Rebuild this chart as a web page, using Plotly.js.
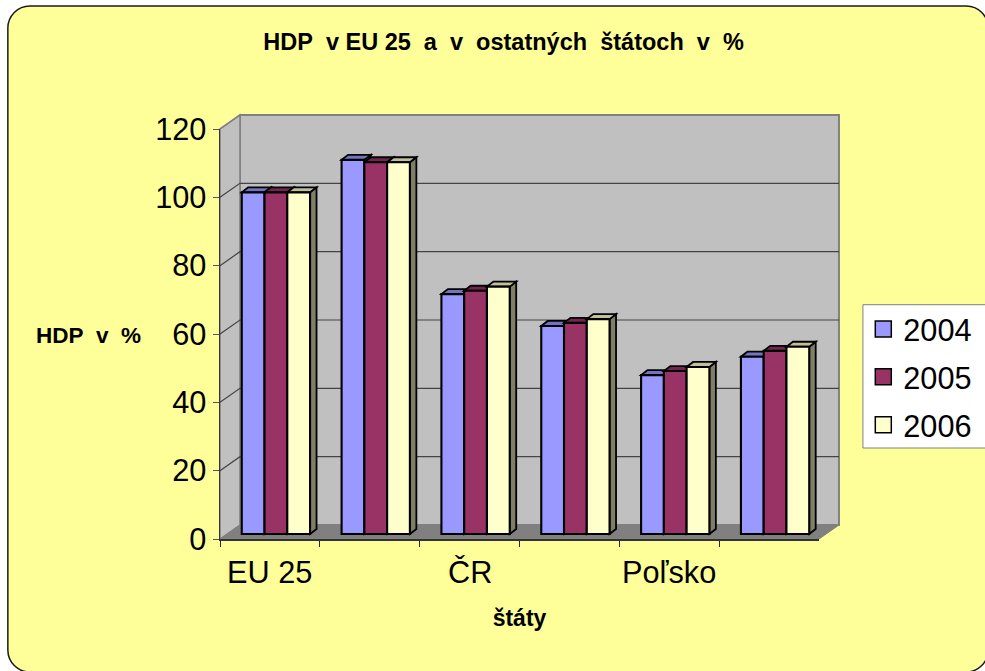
<!DOCTYPE html>
<html><head><meta charset="utf-8">
<script src="https://cdn.plot.ly/plotly-3.0.1.min.js"></script>
<style>html,body{margin:0;padding:0;background:#fff;overflow:hidden}</style>
</head><body><div id="chart" style="width:985px;height:671px"></div>
<script>
const categories = ['EU 25','','ČR','','Poľsko',''];
const years = ['2004','2005','2006'];
const values2004 = [100, 109.5, 70.2, 60.9, 46.5, 51.9];
const values2005 = [100, 108.8, 71.2, 61.8, 47.7, 53.6];
const values2006 = [100, 108.8, 72.4, 62.9, 48.9, 54.8];
const yTicks = [0,20,40,60,80,100,120];
const frontColors = ['#9999FF','#993366','#FFFFCC'];
const topColors = ['#7373C0','#732650','#C0C09A'];
const sideColors = ['#73738F','#732650','#7F7F66'];

const W=985,H=671,L=219.5,R=819.5,T=129,B=539;
const uX=(R-L)/categories.length, uY=(B-T)/120;   // px per axis unit
const depthX=20/uX, depthY=14/uY;                 // chart depth in axis units
const barW=0.228, barDX=6/uX, barDY=5/uY, sideX=6.5/uX, sideY=5/uY;
const series=[values2004,values2005,values2006];

const px=x=>x/categories.length, py=y=>y/120;
function poly(pts,fill,line,lw){
  return {type:'path',xref:'paper',yref:'paper',layer:'below',
    path:'M'+pts.map(p=>px(p[0])+','+py(p[1])).join('L')+'Z',
    fillcolor:fill,line:{color:line||fill,width:lw===undefined?1:lw}};
}
function seg(pts,color,w){
  return {type:'path',xref:'paper',yref:'paper',layer:'below',
    path:'M'+pts.map(p=>px(p[0])+','+py(p[1])).join('L'),
    line:{color:color,width:w}};
}
const n=categories.length, maxY=120;
const shapes=[];
// outer rounded panel (pixel helper)
const fx=p=>(p-L)/(R-L), fy=p=>(B-p)/(B-T);
(function(){
  const l=7,t=6,r=989,b=672,c=22,k=c*0.45;
  const P=(a,b)=>fx(a)+','+fy(b);
  shapes.push({type:'path',xref:'paper',yref:'paper',layer:'below',
    path:'M'+P(l+c,t)+'L'+P(r-c,t)+'C'+P(r-k,t)+' '+P(r,t+k)+' '+P(r,t+c)+'L'+P(r,b-c)+
      'C'+P(r,b-k)+' '+P(r-k,b)+' '+P(r-c,b)+'L'+P(l+c,b)+'C'+P(l+k,b)+' '+P(l,b-k)+' '+P(l,b-c)+
      'L'+P(l,t+c)+'C'+P(l,t+k)+' '+P(l+k,t)+' '+P(l+c,t)+'Z',
    fillcolor:'#FFFF99',line:{color:'#1a1a1a',width:1.5}});
  // legend box
  shapes.push({type:'rect',xref:'paper',yref:'paper',layer:'below',x0:fx(863.5),x1:fx(992),y0:fy(448),y1:fy(304.7),
    fillcolor:'#fff',line:{color:'#808080',width:1}});
})();
// walls
shapes.push(poly([[depthX,depthY],[n+depthX,depthY],[n+depthX,maxY+depthY],[depthX,maxY+depthY]],'#C0C0C0','#808080',2));
shapes.push(poly([[0,0],[depthX,depthY],[depthX,maxY+depthY],[0,maxY]],'#C0C0C0','#808080',1.5));
shapes.push(poly([[0,0],[n,0],[n+depthX,depthY],[depthX,depthY]],'#808080','#808080',1));
// gridlines on the walls
yTicks.slice(1).forEach(v=>{
  if(v<120) shapes.push(seg([[0,v],[depthX,v+depthY],[n+depthX,v+depthY]],'#444444',1.2));
});
shapes.push(seg([[0,120],[depthX,120+depthY]],'#808080',1.5));
// bar depth faces
function barX(g,s){return g+0.5+barDX+(s-1)*barW;}
series.forEach((vals,s)=>{
  vals.forEach((v,g)=>{
    const x0=barX(g,s)-barW/2,x1=barX(g,s)+barW/2,b=barDY,t=barDY+v;
    shapes.push(poly([[x1,b],[x1+sideX,b+sideY],[x1+sideX,t+sideY],[x1,t]],sideColors[s],'#000',1.8));
    shapes.push(poly([[x0,t],[x1,t],[x1+sideX,t+sideY],[x0+sideX,t+sideY]],topColors[s],'#000',1.8));
  });
});

const FONT='"Liberation Sans", Arial, sans-serif';
const traces=series.map((vals,s)=>({
  type:'bar',name:years[s],showlegend:false,
  x:vals.map((_,g)=>barX(g,s)),y:vals,base:vals.map(()=>barDY),width:barW,
  marker:{color:frontColors[s],line:{color:'#000',width:2.1}},hoverinfo:'name+text',text:vals.map(String),textposition:'none'
}));
years.forEach((yr,s)=>traces.push({
  type:'scatter',mode:'markers',name:yr,x:[null],y:[null],legendgroup:yr,
  marker:{symbol:'square',size:16,color:frontColors[s],line:{color:'#000',width:1.5}}
}));

const layout={
  width:W,height:H,autosize:false,paper_bgcolor:'#fff',plot_bgcolor:'rgba(0,0,0,0)',
  margin:{l:L,r:W-R,t:T,b:H-B,pad:0},barmode:'overlay',shapes:shapes,
  font:{family:FONT,color:'#000'},
  title:{text:'<b>HDP&nbsp;&nbsp;v EU 25&nbsp;&nbsp;a&nbsp;&nbsp;v&nbsp;&nbsp;ostatných&nbsp;&nbsp;štátoch&nbsp;&nbsp;v&nbsp;&nbsp;%</b>',font:{size:23.5,family:FONT},xref:'paper',x:fx(503.5),xanchor:'center',yref:'container',y:1-42/H,yanchor:'middle'},
  xaxis:{range:[0,n],tickmode:'array',tickvals:categories.map((_,i)=>i),ticktext:categories.map(()=>''),
    ticks:'outside',ticklen:6,tickcolor:'#222',tickwidth:1,showgrid:false,zeroline:false,showline:true,linecolor:'#333',linewidth:1.5,
    title:{text:'<b>štáty</b>',font:{size:23,family:FONT},standoff:62}},
  yaxis:{range:[0,120],tickmode:'array',tickvals:yTicks,ticks:'outside',ticklen:6,tickcolor:'#555',tickwidth:1,
    showgrid:false,zeroline:false,showline:true,linecolor:'#333',linewidth:1.5,tickfont:{size:30.7,family:FONT}},
  annotations:[
    {text:'<b>HDP&nbsp;&nbsp;v&nbsp;&nbsp;%</b>',xref:'paper',yref:'paper',x:fx(87.5),y:fy(335),xanchor:'center',yanchor:'middle',showarrow:false,font:{size:22.5,family:FONT}}
  ].concat(categories.map((c,i)=>c?({text:c,xref:'x',yref:'paper',x:i+0.5,y:fy(572),xanchor:'center',yanchor:'middle',showarrow:false,font:{size:30.7,family:FONT}}):null).filter(Boolean)),
  legend:{xref:'container',yref:'container',x:863.3/W,y:1-302.5/H,xanchor:'left',yanchor:'top',bgcolor:'rgba(0,0,0,0)',borderwidth:0,
    font:{size:30.7,family:FONT},itemsizing:'trace',tracegroupgap:5,traceorder:'grouped'},
  showlegend:true
};
Plotly.newPlot('chart',traces,layout,{displayModeBar:false,staticPlot:true});
</script></body></html>
